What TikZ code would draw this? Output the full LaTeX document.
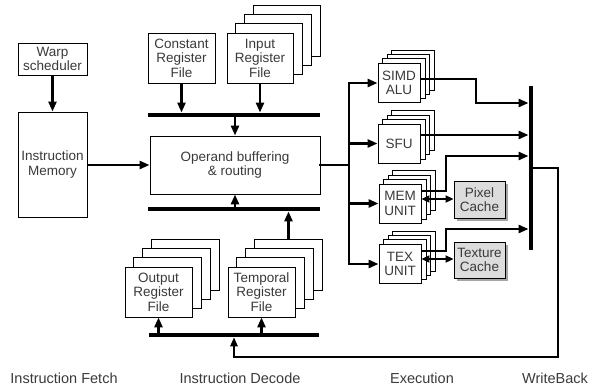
\documentclass[tikz,border=0pt]{standalone}
\usepackage{fontspec}
\setmainfont{Liberation Sans}
\usetikzlibrary{arrows.meta,calc}
\pgfdeclarelayer{bg}
\pgfsetlayers{bg,main}
\definecolor{txt}{HTML}{3A3A3A}
\definecolor{cachefill}{HTML}{DCDCDC}
\tikzset{
  box/.style={draw=black, line width=0.9pt, fill=white, inner sep=0pt, align=center, text=txt,
    font=\fontsize{13.5}{14.5}\selectfont},
  layer/.style={draw=black, line width=0.9pt, fill=white},
  cache/.style={box, fill=cachefill},
  bar/.style={fill=black, inner sep=0pt},
  wire/.style={line width=2.6pt, line cap=rect, line join=miter},
  arr/.style={line width=2.6pt, -{Triangle[length=10pt,width=8pt]}},
  darr/.style={line width=2.4pt, {Triangle[length=8pt,width=7pt]}-{Triangle[length=8pt,width=7pt]}},
  thin wire/.style={line width=1.6pt, line join=miter},
  lbl/.style={text=txt, font=\fontsize{14.5}{16}\selectfont}
}
\begin{document}
\begin{tikzpicture}[x=1pt,y=-1pt]
\useasboundingbox (0,0) rectangle (592,391);
% fetch
\node[box, minimum width=69pt, minimum height=32pt] (warp) at (52.5,59) {Warp\\scheduler};
\node[box, minimum width=69pt, minimum height=105pt] (im) at (52.5,164.5) {Instruction\\Memory};
\draw[arr] (warp.south) -- (im.north);
% decode
\node[box, minimum width=67pt, minimum height=50pt] (crf) at (181.5,58) {Constant\\Register\\File};
\node[box, minimum width=66pt, minimum height=50pt] (irf) at (260,58) {Input\\Register\\File};
\node[bar, minimum width=172pt, minimum height=4.5pt] (bus1) at (234,115) {};
\node[box, minimum width=170pt, minimum height=58pt] (op) at (235,165) {Operand buffering\\\& routing};
\node[bar, minimum width=172pt, minimum height=4.5pt] (bus2) at (234,209) {};
\node[box, minimum width=67pt, minimum height=50pt] (orf) at (158.5,292) {Output\\Register\\File};
\node[box, minimum width=67pt, minimum height=50pt] (trf) at (261.5,292) {Temporal\\Register\\File};
\node[bar, minimum width=170pt, minimum height=4.5pt] (bus3) at (234,335) {};
\draw[arr] (im.east |- op.west) -- (op.west);
\draw[arr] (crf.south) -- (crf.south |- bus1.north);
\draw[arr] (irf.south) -- (irf.south |- bus1.north);
\draw[arr] (op.north |- bus1.south) -- (op.north);
\draw[arr] (op.south |- bus2.north) -- (op.south);
\coordinate (trftop) at (288.5,240);
\draw[arr] (trftop) -- (trftop |- bus2.south);
\draw[arr] (orf.south |- bus3.north) -- (orf.south);
\draw[arr] (trf.south |- bus3.north) -- (trf.south);
% execution
\node[box, minimum width=42pt, minimum height=39pt] (simd) at (399,83) {SIMD\\ALU};
\node[box, minimum width=42pt, minimum height=39pt] (sfu) at (399,143.5) {SFU};
\node[box, minimum width=42pt, minimum height=39pt] (mem) at (400,203.5) {MEM\\UNIT};
\node[box, minimum width=42pt, minimum height=39pt] (tex) at (400,264) {TEX\\UNIT};
\node[cache, minimum width=51pt, minimum height=37pt] (pix) at (479.5,199.5) {Pixel\\Cache};
\node[cache, minimum width=51pt, minimum height=36pt] (texc) at (479.5,260) {Texture\\Cache};
% back layers and shadows
\begin{pgfonlayer}{bg}
  \foreach \n in {irf,orf,trf}{
    \foreach \k in {3,2,1}{
      \draw[layer] ($(\n.south west)+(\k*9,-\k*9)$) rectangle ($(\n.north east)+(\k*9,-\k*9)$);
    }
  }
  \foreach \n in {simd,sfu,mem,tex}{
    \foreach \k in {3,2,1}{
      \draw[layer] ($(\n.south west)+(\k*4.7,-\k*4.3)$) rectangle ($(\n.north east)+(\k*4.7,-\k*4.3)$);
    }
  }
  \foreach \n in {pix,texc}{
    \fill[black!35] ($(\n.south west)+(3,3)$) rectangle ($(\n.north east)+(3,3)$);
  }
\end{pgfonlayer}
\coordinate (sx) at (349,0);
\draw[wire] (op.east) -- (op.east -| sx);
\draw[wire] (simd.west -| sx) -- (tex.west -| sx);
\draw[arr] (simd.west -| sx) -- (simd.west);
\draw[arr] (sfu.west -| sx) -- (sfu.west);
\draw[arr] (mem.west -| sx) -- (mem.west);
\draw[arr] (tex.west -| sx) -- (tex.west);
\draw[darr] (mem.east |- 0,199) -- (pix.west |- 0,199);
\draw[darr] (tex.east |- 0,259) -- (texc.west |- 0,259);
% writeback
\node[bar, minimum width=4.5pt, minimum height=164pt] (wb) at (531,168) {};
\draw[arr] (simd.east |- 0,79) -- (476,79) -- (476,103) -- (wb.west |- 0,103);
\draw[arr] (sfu.east |- 0,135) -- (wb.west |- 0,135);
\draw[arr] (mem.east |- 0,191) -- (446,191) -- (446,156) -- (wb.west |- 0,156);
\draw[arr] (tex.east |- 0,251) -- (446,251) -- (446,229) -- (wb.west |- 0,229);
\draw[thin wire, -{Triangle[length=9pt,width=7.5pt]}] (wb.east |- 0,168) -- (558,168) -- (558,357) -- (bus3.south |- 0,357) -- (bus3.south);
% stage labels
\node[lbl] (l1) at (64,378) {Instruction Fetch};
\node[lbl] (l2) at (240,378) {Instruction Decode};
\node[lbl] (l3) at (422,378) {Execution};
\node[lbl] (l4) at (555,378) {WriteBack};
\end{tikzpicture}
\end{document}
